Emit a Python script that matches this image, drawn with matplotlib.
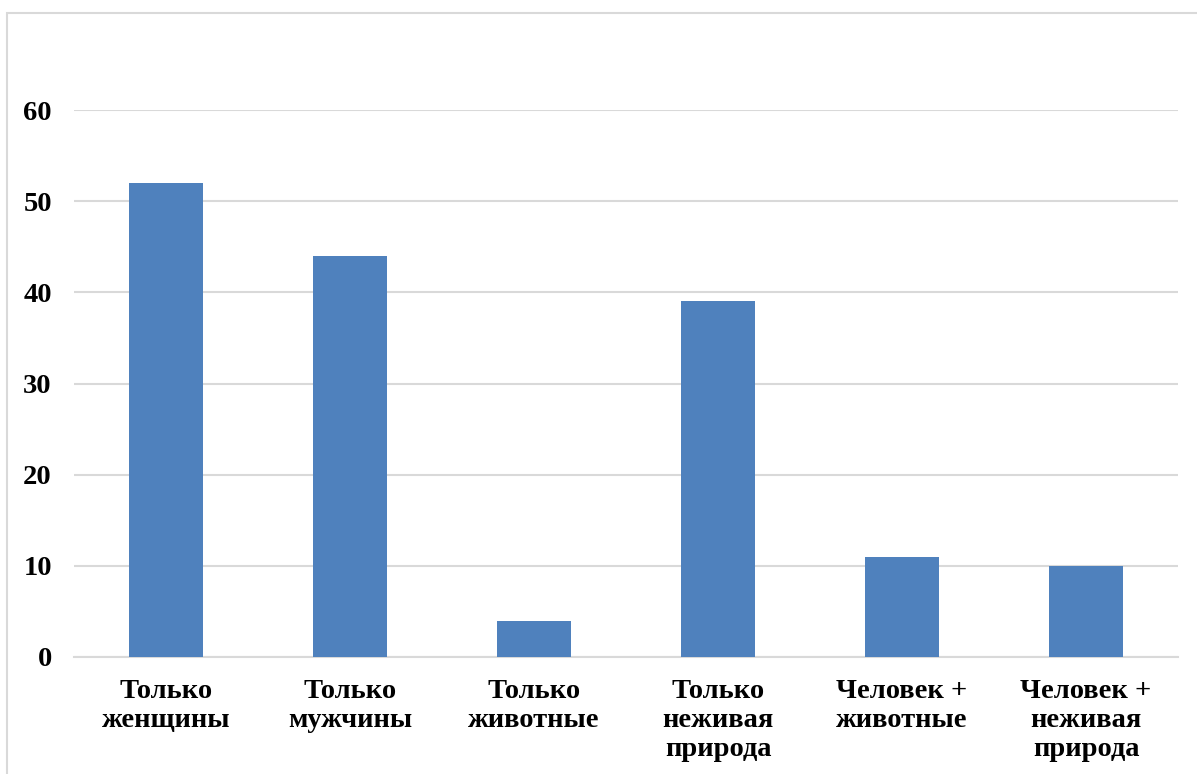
import matplotlib.pyplot as plt
from matplotlib.patches import Rectangle

categories = [
    "Только\nженщины",
    "Только\nмужчины",
    "Только\nживотные",
    "Только\nнеживая\nприрода",
    "Человек +\nживотные",
    "Человек +\nнеживая\nприрода",
]
values = [52, 44, 4, 39, 11, 10]
yticks = [0, 10, 20, 30, 40, 50, 60]

W, H = 1197, 774
fig = plt.figure(figsize=(W / 100, H / 100), dpi=100)
plt.rcParams["font.family"] = "Liberation Serif"

# light grey chart frame, partly cut off at right and bottom
fig.patches.append(Rectangle((7 / W, -0.1), 1.2, (H - 13) / H + 0.1,
                             transform=fig.transFigure, fill=False,
                             edgecolor="#d9d9d9", linewidth=1.5))

ax = fig.add_axes([74 / W, (H - 657) / H, 1104 / W, 547 / H])
x = range(len(categories))
ax.bar(x, values, width=0.4, color="#4f81bd", zorder=3)

ax.set_xlim(-0.5, len(categories) - 0.5)
ax.set_ylim(0, 60)
ax.set_yticks(yticks)
ax.set_yticklabels([str(t) for t in yticks], fontsize=20.5, fontweight="bold")
ax.set_xticks(list(x))
ax.set_xticklabels(categories, fontsize=20.5, fontweight="bold", linespacing=1.2)
ax.tick_params(axis="y", length=0, pad=16)
ax.tick_params(axis="x", length=0, pad=16)
ax.grid(axis="y", color="#d9d9d9", linewidth=1.5, zorder=0)
for s in ["top", "right", "left"]:
    ax.spines[s].set_visible(False)
ax.spines["bottom"].set_color("#d9d9d9")
ax.spines["bottom"].set_linewidth(1.5)

fig.savefig("out.png", dpi=100)
